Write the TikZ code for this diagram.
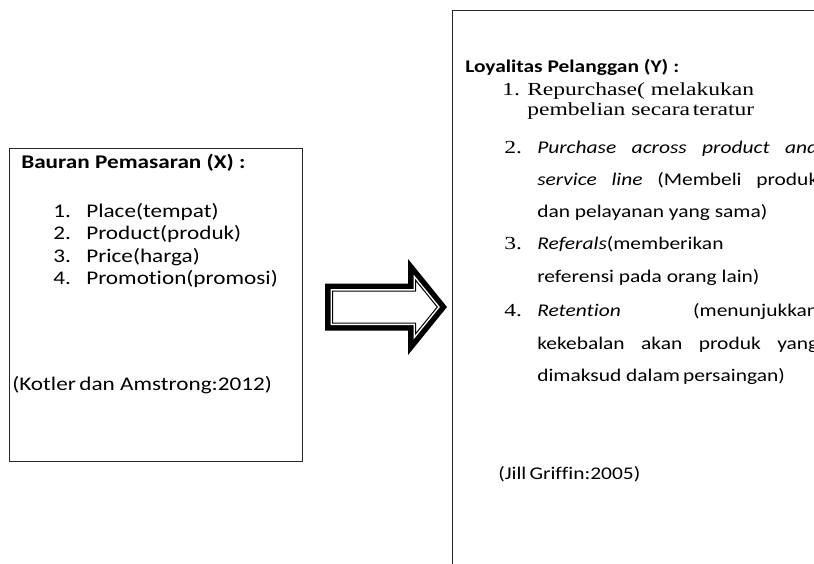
\documentclass[tikz,border=0pt]{standalone}
\usepackage{fontspec}
\setmainfont{Carlito}[FakeStretch=1.2, Ligatures=NoCommon]
\newfontfamily\serfont{Liberation Serif}[FakeStretch=1.28]
\begin{document}
\begin{tikzpicture}[x=0.75pt,y=-0.75pt,
  box/.style={draw=black!85, line width=1.1pt, inner sep=0pt, anchor=north west},
  txt/.style={anchor=base west, inner sep=0pt, font=\fontsize{14.5}{17}\selectfont},
  txtr/.style={anchor=base west, inner sep=0pt, font=\fontsize{13.4}{16}\selectfont},
  ser/.style={anchor=base west, inner sep=0pt, font=\serfont\fontsize{13.8}{16}\selectfont},
]
\useasboundingbox (0,0) rectangle (814,564);
\clip (0,0) rectangle (814,564);
% boxes
\node (X) [box, minimum width=219.75pt, minimum height=234.75pt] at (9,148) {};
\node (Y) [box, minimum width=283.5pt, minimum height=427.5pt] at (452,10) {};
% block arrow
\fill[black] (325,283.5) -- (408,283.5) -- (408,259) -- (447,307) -- (408,355) -- (408,330.5) -- (325,330.5) -- cycle;
\fill[white] (330.5,289) -- (413.5,289) -- (413.5,274.5) -- (439.9,307) -- (413.5,339.5) -- (413.5,325) -- (330.5,325) -- cycle;
\draw[black, line width=0.75pt, line join=miter] (332.5,291) -- (415.5,291) -- (415.5,280.1) -- (437.3,307) -- (415.5,333.9) -- (415.5,323) -- (332.5,323) -- cycle;
% left box text
\node[txt] (lt) at (21,168) {\textbf{Bauran Pemasaran (X) :}};
\node[txt] (n1) at (53,217) {1.};   \node[txt] (i1) at (86,217) {Place(tempat)};
\node[txt] (n2) at (53,239.5) {2.}; \node[txt] (i2) at (86,239.5) {Product(produk)};
\node[txt] (n3) at (53,262) {3.};   \node[txt] (i3) at (86,262) {Price(harga)};
\node[txt] (n4) at (53,284.5) {4.}; \node[txt] (i4) at (86,284.5) {Promotion(promosi)};
\node[txt] (lk) at (12,390) {(Kotler\hspace{0.18em}dan Amstrong:2012)};
% right box text
\node[txtr] (rt) at (465,72) {\textbf{Loyalitas Pelanggan (Y) :}};
\node[ser] (m1) at (502,95) {1.}; \node[ser] (j1) at (527,95) {Repurchase( melakukan};
\node[ser] (j1b) at (527,115) {pembelian secara\hspace{0.15em}teratur};
\node[ser] (m2) at (504,153) {2.}; \node[txtr] (j2) at (537,153) {\makebox[210.75pt][s]{\itshape Purchase across product and}};
\node[txtr] (j2b) at (537,185) {\makebox[210.75pt][s]{\textit{service line} (Membeli produk}};
\node[txtr] (j2c) at (537,217) {dan pelayanan yang sama)};
\node[ser] (m3) at (504,249) {3.}; \node[txtr] (j3) at (537,249) {\textit{Referals}(memberikan};
\node[txtr] (j3b) at (537,282) {referensi pada orang lain)};
\node[ser] (m4) at (504,316) {4.}; \node[txtr] (j4) at (537,316) {\makebox[210.75pt][s]{\textit{Retention} (menunjukkan}};
\node[txtr] (j4b) at (537,349) {\makebox[210.75pt][s]{kekebalan akan produk yang}};
\node[txtr] (j4c) at (537,381) {dimaksud dalam\hspace{0.18em}persaingan)};
\node[txtr] (jg) at (498,479) {(Jill\hspace{0.18em}Griffin:2005)};
\end{tikzpicture}
\end{document}
